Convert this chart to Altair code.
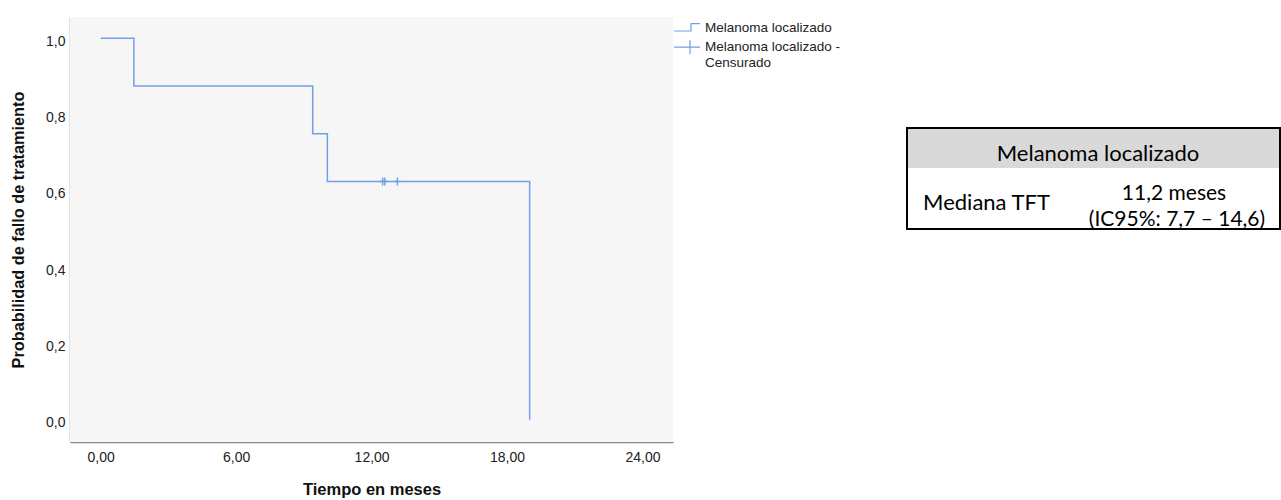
import altair as alt
import pandas as pd

# Kaplan-Meier estimate: time to treatment failure, localized melanoma
step_times = [0.0, 1.47, 9.39, 10.04, 19.0]
step_prob = [1.0, 0.875, 0.75, 0.625, 0.0]
censor_times = [12.49, 12.58, 13.14]
censor_prob = [0.625, 0.625, 0.625]

series_names = ["Melanoma localizado", "Melanoma localizado - Censurado"]

x_ticks = [0, 6, 12, 18, 24]
y_ticks = [0.0, 0.2, 0.4, 0.6, 0.8, 1.0]

table_header = "Melanoma localizado"
table_row_label = "Mediana TFT"
table_row_value = ["11,2 meses", "(IC95%: 7,7 \u2013 14,6)"]

BLUE = "#6f9fe8"
AXIS_FONT = "Liberation Sans"
TABLE_FONT = "Lato"
W, H = 603, 425

x_scale = alt.Scale(domain=[-1.36, 25.35], nice=False, zero=False)
y_scale = alt.Scale(domain=[-0.058, 1.056], nice=False, zero=False)

steps = pd.DataFrame({"t": step_times, "p": step_prob})
censored = pd.DataFrame({"t": censor_times, "p": censor_prob})
one = pd.DataFrame({"k": [0]})

# light grey plotting area
plot_bg = alt.Chart(one).mark_rect(fill="#f6f6f6").encode(
    x=alt.value(0), x2=alt.value(W), y=alt.value(0), y2=alt.value(H)
)

curve = alt.Chart(steps).mark_line(
    interpolate="step-after", color=BLUE, strokeWidth=1.5
).encode(
    x=alt.X(
        "t:Q",
        scale=x_scale,
        axis=alt.Axis(
            values=x_ticks,
            format=".2f",
            labelExpr="replace(datum.label, '.', ',')",
            title="Tiempo en meses",
            titleFontWeight="bold",
            titleFontSize=16.5,
            titleFont=AXIS_FONT,
            titleColor="#111",
            titleX=W / 2,
            titleY=52,
            titleBaseline="alphabetic",
            titleAnchor="middle",
            labelFontSize=14,
            labelFont=AXIS_FONT,
            labelColor="#222",
            labelPadding=8,
            ticks=False,
            tickSize=0,
            grid=False,
            domainColor="#8a8a8a",
            domainWidth=1.5,
        ),
    ),
    y=alt.Y(
        "p:Q",
        scale=y_scale,
        axis=alt.Axis(
            values=y_ticks,
            format=".1f",
            labelExpr="replace(datum.label, '.', ',')",
            title="Probabilidad de fallo de tratamiento",
            titleFontWeight="bold",
            titleFontSize=16.3,
            titleFont=AXIS_FONT,
            titleColor="#111",
            titleX=-52,
            titleY=H / 2,
            titleBaseline="middle",
            titleAngle=270,
            labelFontSize=14,
            labelFont=AXIS_FONT,
            labelColor="#222",
            labelPadding=5,
            labelOffset=3,
            ticks=False,
            tickSize=0,
            grid=False,
            domainColor="#8a8a8a",
            domainWidth=1.5,
        ),
    ),
)

censor_marks = alt.Chart(censored).mark_point(
    shape="M-0.75,0H0.75M0,-1V1",
    size=64,
    filled=False,
    color=BLUE,
    strokeWidth=1.4,
    opacity=1,
).encode(x=alt.X("t:Q", scale=x_scale), y=alt.Y("p:Q", scale=y_scale))

# legend entries: step line and censoring cross
legend_src = pd.DataFrame({"serie": series_names})
legend_layer = alt.Chart(legend_src).mark_point(
    opacity=0, filled=False, color=BLUE
).encode(
    shape=alt.Shape(
        "serie:N",
        scale=alt.Scale(
            domain=series_names,
            range=["M-1.3,0.33H0.4V-0.4H1.3", "M-1.3,0H1.3M0.3,-0.7V0.7"],
        ),
        legend=alt.Legend(
            title=None,
            orient="none",
            legendX=606,
            legendY=-0.3,
            padding=0,
            rowPadding=1.5,
            symbolSize=400,
            symbolStrokeColor=BLUE,
            symbolFillColor="transparent",
            symbolStrokeWidth=1.2,
            symbolOpacity=1,
            labelFont=AXIS_FONT,
            labelFontSize=13.5,
            labelColor="#222",
            labelOffset=7,
            labelLimit=400,
            labelExpr="datum.label == 'Melanoma localizado - Censurado' ? ['Melanoma localizado -', 'Censurado'] : datum.label",
        ),
    )
)

# summary table drawn to the right of the plot
header_bg = alt.Chart(one).mark_rect(fill="#d9d9d9").encode(
    x=alt.value(837), x2=alt.value(1210), y=alt.value(111), y2=alt.value(151)
)
table_frame = alt.Chart(one).mark_rect(
    fill="transparent", stroke="#000", strokeWidth=2
).encode(x=alt.value(837), x2=alt.value(1210), y=alt.value(111), y2=alt.value(212))

def cell_text(text, cx, baseline_y, size=22):
    return alt.Chart(pd.DataFrame({"txt": [text]})).mark_text(
        font=TABLE_FONT, fontSize=size, color="#000", align="center", baseline="alphabetic"
    ).encode(x=alt.value(cx), y=alt.value(baseline_y), text="txt:N")

table_texts = [
    cell_text(table_header, 1028, 143.7),
    cell_text(table_row_label, 916.5, 193),
    cell_text(table_row_value[0], 1104, 183, 21),
    cell_text(table_row_value[1], 1107, 208.5, 21),
]

chart = alt.layer(
    plot_bg, curve, censor_marks, legend_layer, header_bg, table_frame, *table_texts
).properties(
    width=W,
    height=H,
    autosize=alt.AutoSizeParams(type="none"),
    padding={"left": 70, "top": 17, "right": 608, "bottom": 58},
    background="white",
).configure_view(strokeWidth=0)

chart.save("out.html", embed_options={"renderer": "svg", "actions": False})
